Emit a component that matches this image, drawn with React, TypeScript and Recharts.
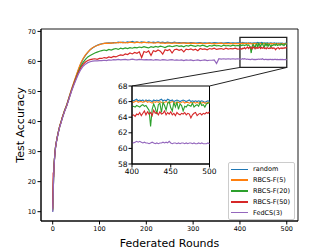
import { LineChart, Line, XAxis, YAxis, ReferenceArea, ReferenceLine, Legend } from "recharts";

// federated rounds (denser at the start and inside the zoomed window)
const rounds = [
  0, 1, 2, 3, 4, 5, 6, 8, 10, 12, 15, 18, 20, 25, 30, 35, 40, 45, 50, 55, 60, 65, 70, 75, 80, 85, 90, 95, 100,
  105, 110, 115, 120, 125, 130, 135, 140, 145, 150, 155, 160, 165, 170, 175, 180, 185, 190, 195, 200,
  205, 210, 215, 220, 225, 230, 235, 240, 245, 250, 255, 260, 265, 270, 275, 280, 285, 290, 295, 300,
  305, 310, 315, 320, 325, 330, 335, 340, 345, 350, 355, 360, 365, 370, 375, 380, 385, 390, 395,
  400, 402, 404, 406, 408, 410, 412, 414, 416, 418, 420, 422, 424, 426, 428, 430, 432, 434, 436, 438,
  440, 442, 444, 446, 448, 450, 452, 454, 456, 458, 460, 462, 464, 466, 468, 470, 472, 474, 476, 478,
  480, 482, 484, 486, 488, 490, 492, 494, 496, 498, 500,
];

const randomAcc = [
  10, 16, 22, 26, 28, 30, 31.5, 33.5, 35, 36.5, 38.5, 40, 41, 43.5, 45.5, 48, 50.5, 52.8, 55, 57.2, 59.2, 60.8, 62, 63, 63.9, 64.5, 65, 65.4, 65.7,
  65.9, 66.0, 66.1, 66.2, 66.1, 66.3, 66.2, 66.4, 66.3, 66.4,
  66.3, 66.5, 66.4, 66.7, 66.4, 66.5, 66.3, 66.5, 66.4, 66.3,
  66.5, 66.3, 66.4, 66.3, 66.5, 66.3, 66.4, 66.2, 66.4, 66.3,
  66.2, 66.4, 66.2, 66.3, 66.2, 66.3, 66.2, 66.1, 66.3, 66.2,
  66.1, 66.2, 66.3, 66.1, 66.2, 66.1, 66.2, 66.1, 66.3, 66.2,
  66.1, 66.2, 66.1, 66.2, 66.3, 66.1, 66.2, 66.1, 66.2,
  66.2, 66.1, 66.2, 66.3, 66.1, 66.2, 66.1, 66.2, 66.0, 66.2,
  66.1, 66.2, 66.1, 66.0, 66.2, 66.1, 66.2, 66.1, 66.2, 66.3,
  66.1, 66.2, 66.1, 66.3, 66.2, 66.1, 66.2, 66.0, 66.1, 66.2,
  66.1, 66.0, 66.1, 66.2, 66.1, 66.0, 66.1, 66.2, 66.0, 66.1,
  66.0, 66.1, 66.0, 66.1, 66.0, 66.1, 66.0, 65.9, 66.0, 66.1,
  66.0,
];

const rbcsF5 = [
  10.5, 16.5, 22.5, 26, 28.2, 30, 31.6, 33.4, 35.1, 36.6, 38.6, 40, 41.2, 43.6, 45.6, 48.2, 50.7, 53, 55.3, 57.5, 59.5, 61, 62.2, 63.1, 63.9, 64.6, 65, 65.3, 65.6,
  65.8, 66.0, 66.1, 66.0, 66.2, 66.1, 66.3, 66.2, 66.4, 66.2,
  66.3, 66.2, 66.4, 66.3, 66.2, 66.4, 66.3, 66.2, 66.4, 66.3,
  66.2, 66.3, 66.1, 66.2, 66.3, 66.1, 66.2, 66.0, 66.2, 66.1,
  66.0, 66.2, 66.1, 66.0, 66.1, 66.2, 66.0, 66.1, 66.0, 66.1,
  66.0, 65.9, 66.1, 66.0, 65.9, 66.0, 66.1, 65.9, 66.0, 65.9,
  66.0, 66.1, 65.9, 66.0, 65.9, 66.0, 65.9, 66.0, 65.9,
  66.0, 65.9, 66.0, 66.1, 65.9, 66.0, 66.0, 65.9, 66.0, 66.1,
  65.9, 66.0, 65.9, 65.8, 66.0, 65.9, 66.0, 65.9, 66.0, 65.9,
  65.8, 65.9, 66.0, 65.9, 65.8, 65.9, 66.0, 65.9, 65.8, 65.9,
  65.9, 65.8, 65.9, 66.0, 65.8, 65.9, 65.9, 65.8, 65.9, 65.8,
  65.9, 65.8, 65.9, 65.8, 65.9, 65.8, 65.9, 65.8, 65.8, 65.9,
  65.8,
];

const rbcsF20 = [
  10.5, 16, 22, 26, 28, 30, 31.4, 33.3, 35, 36.5, 38.4, 39.9, 41, 43.4, 45.4, 47.9, 50.3, 52.5, 54.6, 56.6, 58.4, 59.7, 60.7, 61.5, 62, 62.4, 62.8, 63.1, 63.4,
  63.6, 63.8, 63.6, 64.0, 63.8, 64.1, 64.3, 64.0, 64.4, 64.2,
  64.5, 64.3, 64.6, 64.4, 64.7, 64.5, 64.8, 64.6, 64.9, 64.7,
  64.5, 64.9, 64.7, 65.0, 64.8, 65.1, 64.9, 64.6, 65.0, 65.2,
  64.9, 65.1, 65.3, 65.0, 65.2, 64.9, 65.3, 65.1, 65.4, 65.2,
  65.0, 65.3, 65.1, 65.4, 65.2, 64.9, 65.3, 65.1, 65.4, 65.2,
  65.3, 65.0, 65.4, 65.2, 65.3, 65.1, 65.4, 65.2, 65.3,
  65.3, 65.4, 65.3, 65.5, 65.4, 65.3, 65.5, 65.6, 65.4, 65.5,
  65.2, 64.9, 62.8, 65.0, 65.7, 65.2, 64.4, 65.6, 65.8, 64.6,
  65.9, 65.5, 64.9, 65.8, 66.0, 65.2, 64.8, 65.9, 65.3, 65.9,
  65.0, 65.7, 65.5, 64.8, 65.4, 65.3, 65.6, 65.5, 65.4, 65.8,
  65.3, 65.5, 65.6, 65.4, 65.9, 65.5, 65.6, 65.3, 65.7, 65.8,
  65.9,
];

const rbcsF50 = [
  11, 23, 21.5, 25.5, 28, 29.8, 31.3, 33.3, 35, 36.4, 38.4, 39.8, 41, 43.3, 45.3, 47.8, 50.2, 52.4, 54.4, 56.3, 57.9, 59, 59.8, 60.3, 60.6, 60.8, 60.9, 60.7, 61.0,
  61.0, 61.3, 61.1, 61.5, 61.3, 61.7, 61.5, 61.9, 62.2, 62.0,
  62.5, 62.3, 62.8, 62.5, 63.0, 62.7, 63.2, 61.3, 63.3, 63.0,
  63.5, 62.0, 63.6, 63.3, 63.8, 63.4, 62.4, 63.9, 63.6, 64.0,
  62.8, 63.9, 64.1, 63.7, 64.0, 63.2, 64.1, 63.9, 64.2, 63.8,
  64.1, 63.6, 64.3, 64.0, 64.2, 63.9, 64.3, 64.1, 64.4, 64.0,
  64.2, 64.3, 64.0, 64.4, 64.1, 64.3, 64.2, 64.4, 64.1,
  64.2, 64.3, 64.1, 64.4, 64.3, 64.6, 64.2, 64.5, 64.8, 64.3,
  64.7, 64.4, 64.6, 64.2, 64.9, 64.5, 64.6, 64.3, 64.7, 64.4,
  64.5, 64.8, 64.3, 64.6, 64.4, 64.7, 64.3, 64.5, 64.2, 64.6,
  64.4, 64.3, 64.5, 64.4, 64.6, 64.3, 64.5, 64.4, 63.9, 64.3,
  64.5, 64.6, 64.2, 64.4, 64.5, 64.3, 64.5, 64.4, 64.6, 64.5,
  64.7,
];

const fedCS3 = [
  10, 16, 21.5, 25.5, 27.8, 29.7, 31.2, 33.2, 34.8, 36.3, 38.2, 39.7, 40.8, 43.2, 45.2, 47.6, 50, 52.1, 54, 55.8, 57.3, 58.4, 59.1, 59.6, 59.9, 60.1, 60.2, 60.2, 60.3,
  60.3, 60.4, 60.3, 60.5, 60.4, 60.6, 60.5, 60.7, 60.5, 60.6,
  60.7, 60.5, 60.6, 60.8, 60.6, 60.5, 60.7, 60.6, 60.5, 60.6,
  60.5, 60.6, 60.4, 60.6, 60.5, 60.4, 60.6, 60.5, 60.4, 60.5,
  60.6, 60.4, 60.5, 60.4, 60.5, 60.3, 60.5, 60.4, 60.5, 60.3,
  60.4, 60.5, 60.3, 60.4, 60.5, 60.3, 60.4, 60.4, 60.5, 59.3,
  60.9, 60.8, 60.9, 60.8, 60.9, 60.8, 60.9, 60.8, 60.9,
  60.8, 60.7, 60.8, 60.9, 60.8, 60.9, 60.8, 60.7, 60.8, 60.7,
  60.7, 60.6, 60.7, 60.8, 60.7, 60.6, 60.7, 60.6, 60.7, 60.7,
  60.8, 60.7, 60.8, 60.7, 60.9, 60.7, 60.6, 60.7, 60.7, 60.6,
  60.7, 60.6, 60.7, 60.7, 60.6, 60.7, 60.6, 60.7, 60.7, 60.6,
  60.7, 60.6, 60.6, 60.7, 60.6, 60.7, 60.6, 60.6, 60.6, 60.7,
  60.6,
];

const xTicks = [0, 100, 200, 300, 400, 500];
const yTicks = [10, 20, 30, 40, 50, 60, 70];
const insetXTicks = [400, 450, 500];
const insetYTicks = [58, 60, 62, 64, 66, 68];

const series = [
  { key: "random", name: "random", color: "#1f77b4" },
  { key: "f5", name: "RBCS-F(5)", color: "#ff7f0e" },
  { key: "f20", name: "RBCS-F(20)", color: "#2ca02c" },
  { key: "f50", name: "RBCS-F(50)", color: "#d62728" },
  { key: "fedcs", name: "FedCS(3)", color: "#9467bd" },
];

const data = rounds.map((round, i) => ({
  round,
  random: randomAcc[i],
  f5: rbcsF5[i],
  f20: rbcsF20[i],
  f50: rbcsF50[i],
  fedcs: fedCS3[i],
}));
const insetData = data.filter((d) => d.round >= 400);

// main axes layout
const X_DOMAIN = [-25, 524];
const Y_DOMAIN = [6.9, 70.8];
const PLOT = { left: 41, top: 29, width: 257, height: 192 };

// inset layout (pixel box of the inset plot area)
const INSET = { left: 100, top: 80, width: 126, height: 98, axisW: 32, axisH: 14, mTop: 6, mRight: 16.5 };
const insetPlotLeft = INSET.left + INSET.axisW;
const insetPlotRight = INSET.left + INSET.width - INSET.mRight;
const insetPlotTop = INSET.top + INSET.mTop;

// convert inset corners to main-chart data coords for the connector lines
const toMainX = (px: number) => X_DOMAIN[0] + ((px - PLOT.left) / PLOT.width) * (X_DOMAIN[1] - X_DOMAIN[0]);
const toMainY = (py: number) => Y_DOMAIN[1] - ((py - PLOT.top) / PLOT.height) * (Y_DOMAIN[1] - Y_DOMAIN[0]);

// legend keeps the plotting order (recharts would sort it by name)
const renderLegend = () => (
  <div
    style={{
      background: "rgba(255,255,255,0.85)",
      border: "1px solid #ccc",
      borderRadius: 2,
      padding: "1px 2px",
      fontSize: 6.5,
      color: "#000",
    }}
  >
    {series.map((s) => (
      <div key={s.key} style={{ display: "flex", alignItems: "center", height: 10.8 }}>
        <span style={{ display: "inline-block", width: 17, height: 1.5, background: s.color, marginRight: 5 }} />
        <span>{s.name}</span>
      </div>
    ))}
  </div>
);

export default function App() {
  return (
    <div
      style={{
        position: "absolute",
        left: 0,
        top: 0,
        width: 332,
        height: 249,
        background: "#fff",
        fontFamily: "'DejaVu Sans', sans-serif",
      }}
    >
      <LineChart width={332} height={249} data={data} margin={{ top: PLOT.top, right: 332 - PLOT.left - PLOT.width, left: 0, bottom: 0 }}>
        <XAxis
          dataKey="round"
          type="number"
          domain={X_DOMAIN}
          ticks={xTicks}
          height={249 - PLOT.top - PLOT.height}
          stroke="#000"
          tickSize={3.5}
          tickMargin={1.5}
          tick={{ fill: "#000", fontSize: 6.5 }}
          label={{ value: "Federated Rounds", position: "insideBottom", offset: 2, fill: "#000", fontSize: 11 }}
        />
        <YAxis
          type="number"
          domain={Y_DOMAIN}
          ticks={yTicks}
          width={PLOT.left}
          stroke="#000"
          tickSize={3.5}
          tickMargin={1.5}
          tick={{ fill: "#000", fontSize: 6.5 }}
          label={{
            value: "Test Accuracy",
            angle: -90,
            position: "insideLeft",
            offset: 20,
            fill: "#000",
            fontSize: 11,
            style: { textAnchor: "middle" },
          }}
        />
        <ReferenceArea x1={X_DOMAIN[0]} x2={X_DOMAIN[1]} y1={Y_DOMAIN[0]} y2={Y_DOMAIN[1]} fill="none" stroke="#000" strokeWidth={0.9} />
        {series.map((s) => (
          <Line key={s.key} dataKey={s.key} name={s.name} stroke={s.color} strokeWidth={1.2} dot={false} activeDot={false} isAnimationActive={false} />
        ))}
        <ReferenceArea x1={400} x2={500} y1={58} y2={68} fill="none" stroke="#222" strokeWidth={1.3} />
        <ReferenceLine
          segment={[{ x: 400, y: 58 }, { x: toMainX(insetPlotLeft), y: toMainY(insetPlotTop) }]}
          stroke="#222"
          strokeWidth={1}
        />
        <ReferenceLine
          segment={[{ x: 500, y: 58 }, { x: toMainX(insetPlotRight), y: toMainY(insetPlotTop) }]}
          stroke="#222"
          strokeWidth={1}
        />
        <Legend
          layout="vertical"
          align="center"
          verticalAlign="middle"
          width={67}
          wrapperStyle={{ left: 228, top: 162 }}
          content={renderLegend}
        />
      </LineChart>

      {/* inset background */}
      <div
        style={{
          position: "absolute",
          left: insetPlotLeft,
          top: insetPlotTop,
          width: insetPlotRight - insetPlotLeft,
          height: INSET.height - INSET.mTop - INSET.axisH,
          background: "#fff",
        }}
      />
      <div style={{ position: "absolute", left: INSET.left, top: INSET.top }}>
        <LineChart
          width={INSET.width}
          height={INSET.height}
          data={insetData}
          margin={{ top: INSET.mTop, right: INSET.mRight, left: 0, bottom: 0 }}
        >
          <XAxis
            dataKey="round"
            type="number"
            domain={[400, 500]}
            ticks={insetXTicks}
            height={INSET.axisH}
            stroke="#000"
            tickSize={3.5}
            tickMargin={1}
            tick={{ fill: "#000", fontSize: 7.5 }}
          />
          <YAxis
            type="number"
            domain={[58, 68]}
            ticks={insetYTicks}
            width={INSET.axisW}
            allowDataOverflow
            stroke="#000"
            tickSize={3.5}
            tickMargin={1}
            tick={{ fill: "#000", fontSize: 7.5 }}
          />
          <ReferenceArea x1={400} x2={500} y1={58} y2={68} fill="none" stroke="#000" strokeWidth={1} />
          {series.map((s) => (
            <Line key={s.key} dataKey={s.key} name={s.name} stroke={s.color} strokeWidth={1.1} dot={false} activeDot={false} isAnimationActive={false} />
          ))}
        </LineChart>
      </div>
    </div>
  );
}
